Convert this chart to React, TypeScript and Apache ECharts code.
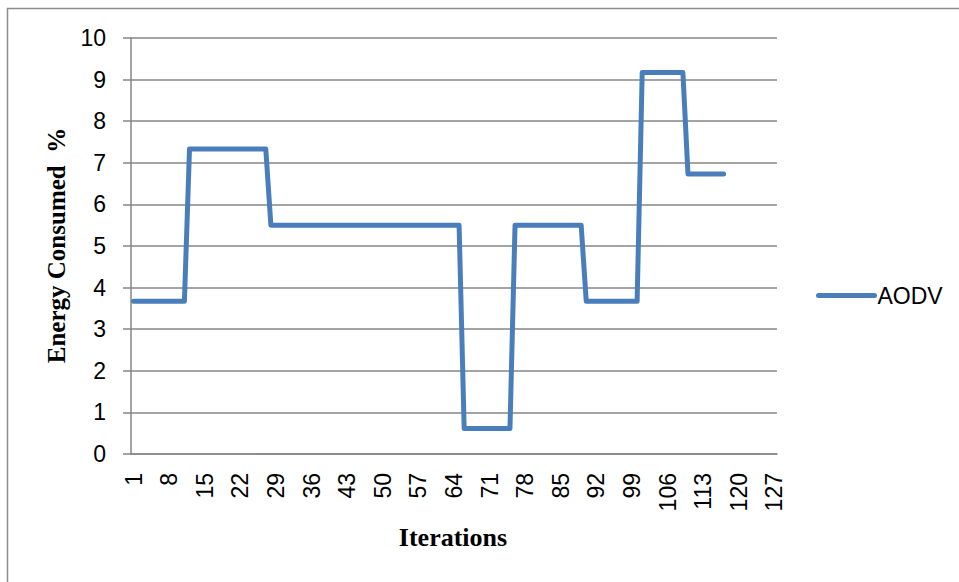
import React, { useEffect, useRef } from "react";
import * as echarts from "echarts";

// Category axis: iterations 1..127 (Excel category axis)
const categories: string[] = Array.from({ length: 127 }, (_, i) => String(i + 1));

// AODV energy consumed (%) per iteration (iterations 1..117)
const aodvValues: number[] = [
  // 1-11
  3.67, 3.67, 3.67, 3.67, 3.67, 3.67, 3.67, 3.67, 3.67, 3.67, 3.67,
  // 12-27
  7.33, 7.33, 7.33, 7.33, 7.33, 7.33, 7.33, 7.33, 7.33, 7.33, 7.33, 7.33, 7.33, 7.33, 7.33, 7.33,
  // 28-65
  5.5, 5.5, 5.5, 5.5, 5.5, 5.5, 5.5, 5.5, 5.5, 5.5, 5.5, 5.5, 5.5, 5.5, 5.5, 5.5, 5.5, 5.5, 5.5,
  5.5, 5.5, 5.5, 5.5, 5.5, 5.5, 5.5, 5.5, 5.5, 5.5, 5.5, 5.5, 5.5, 5.5, 5.5, 5.5, 5.5, 5.5, 5.5,
  // 66-75
  0.61, 0.61, 0.61, 0.61, 0.61, 0.61, 0.61, 0.61, 0.61, 0.61,
  // 76-89
  5.5, 5.5, 5.5, 5.5, 5.5, 5.5, 5.5, 5.5, 5.5, 5.5, 5.5, 5.5, 5.5, 5.5,
  // 90-100
  3.67, 3.67, 3.67, 3.67, 3.67, 3.67, 3.67, 3.67, 3.67, 3.67, 3.67,
  // 101-109
  9.17, 9.17, 9.17, 9.17, 9.17, 9.17, 9.17, 9.17, 9.17,
  // 110-117
  6.73, 6.73, 6.73, 6.73, 6.73, 6.73, 6.73, 6.73,
];

const seriesName = "AODV";
const yTitle = "Energy Consumed  %";
const xTitle = "Iterations";

const GRAY = "#868686";
const BLUE = "#4a7ebb";
const SANS = "'Liberation Sans', Arial, sans-serif";
const SERIF = "'Liberation Serif', 'Times New Roman', serif";

export default function App() {
  const ref = useRef<HTMLDivElement | null>(null);

  useEffect(() => {
    if (!ref.current) return;
    const chart = echarts.init(ref.current, null, { renderer: "svg" });
    chart.setOption({
      animation: false,
      backgroundColor: "#ffffff",
      textStyle: { fontFamily: SANS },
      grid: {
        left: 131,
        right: 182,
        top: 38,
        bottom: 128,
        containLabel: false,
        outerBoundsMode: "none",
      },
      legend: {
        show: true,
        orient: "horizontal",
        left: 816,
        top: 284,
        padding: 0,
        itemWidth: 56,
        itemHeight: 14,
        itemGap: 10,
        itemStyle: { opacity: 0 },
        lineStyle: { width: 5, color: BLUE, cap: "round" },
        textStyle: { fontSize: 23, color: "#000", fontFamily: SANS, padding: [0, 0, 0, -2] },
      },
      xAxis: {
        type: "category",
        data: categories,
        boundaryGap: true,
        axisLine: { show: true, lineStyle: { color: GRAY, width: 1.5 } },
        axisTick: { show: false },
        splitLine: { show: false },
        axisLabel: {
          interval: 6,
          rotate: 90,
          margin: 19,
          fontSize: 23,
          color: "#000",
          fontFamily: SANS,
          hideOverlap: false,
        },
      },
      yAxis: {
        type: "value",
        min: 0,
        max: 10,
        interval: 1,
        axisLine: { show: true, lineStyle: { color: GRAY, width: 1.5 } },
        axisTick: { show: true, length: 8, lineStyle: { color: GRAY, width: 1.5 } },
        splitLine: { show: true, lineStyle: { color: GRAY, width: 1.5 } },
        axisLabel: { margin: 25, fontSize: 23, color: "#000", fontFamily: SANS },
      },
      series: [
        {
          name: seriesName,
          type: "line",
          data: aodvValues,
          symbol: "none",
          showSymbol: false,
          lineStyle: { color: BLUE, width: 5, cap: "round", join: "round" },
          itemStyle: { color: BLUE },
        },
      ],
      graphic: [
        {
          type: "rect",
          z: -10,
          silent: true,
          shape: { x: 7.5, y: 8.5, width: 1200, height: 1200 },
          style: { fill: "none", stroke: "#8c8c8c", lineWidth: 1.5 },
        },
        {
          type: "text",
          x: 56,
          y: 245.5,
          rotation: Math.PI / 2,
          style: {
            text: yTitle,
            font: `bold 25px ${SERIF}`,
            fill: "#000",
            align: "center",
            verticalAlign: "middle",
          },
        },
        {
          type: "text",
          x: 453,
          y: 537,
          style: {
            text: xTitle,
            font: `bold 26px ${SERIF}`,
            fill: "#000",
            align: "center",
            verticalAlign: "middle",
          },
        },
      ],
    });
    return () => {
      chart.dispose();
    };
  }, []);

  return (
    <div
      ref={ref}
      style={{ position: "absolute", left: 0, top: 0, width: 959, height: 582 }}
    />
  );
}
